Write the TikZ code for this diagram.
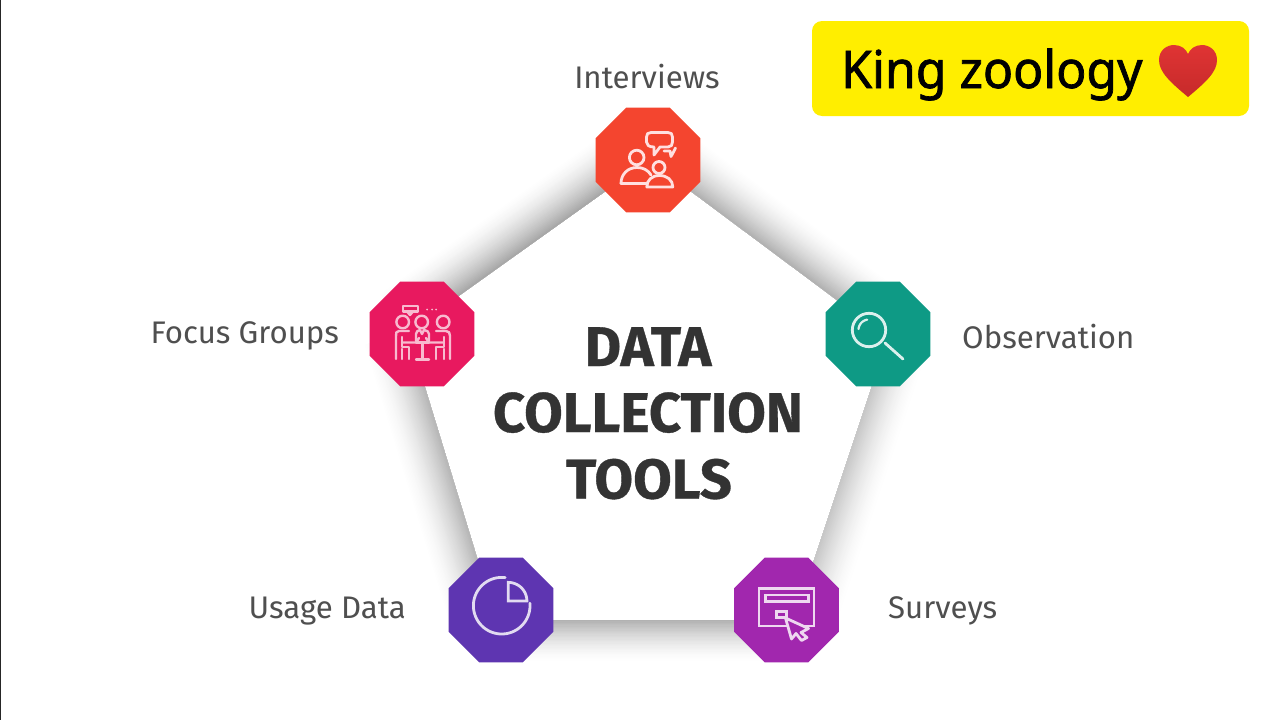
\documentclass[tikz,border=0pt]{standalone}
\usepackage{fontspec}
\setmainfont{Fira Sans}
\newfontfamily\titlefont[BoldFeatures={FakeBold=0.6}]{Fira Sans}
\newfontfamily\badgefont[FakeBold=1.4,FakeStretch=0.96]{Noto Sans}
\usetikzlibrary{calc,shapes.geometric}
\definecolor{cred}{HTML}{F4452F}
\definecolor{cpink}{HTML}{E8195F}
\definecolor{cteal}{HTML}{0E9A85}
\definecolor{cindigo}{HTML}{5E35B1}
\definecolor{cpurple}{HTML}{A127AE}
\definecolor{ctext}{HTML}{4F4F4F}
\definecolor{ctitle}{HTML}{333333}
\definecolor{cbadge}{HTML}{FFEE00}
\definecolor{cheart}{HTML}{E03434}
\definecolor{cheartb}{HTML}{C62A2A}
\tikzset{
  octa/.style={regular polygon,regular polygon sides=8,minimum size=113.6pt,inner sep=0pt,fill=#1},
  lab/.style={font=\fontsize{31.2}{34}\selectfont,text=ctext,inner sep=0pt},
  ttl/.style={font=\titlefont\fontsize{56}{60}\selectfont\bfseries,text=ctitle,inner sep=0pt,anchor=base},
  ico/.style={line width=2.8pt,line join=round,line cap=round,draw=#1},
}
\newcommand\edgeglow[4]{%
  \foreach \i in {32,31,...,1}{%
    \pgfmathsetmacro\dd{#4*\i/32}%
    \pgfmathsetmacro\vv{#3*pow(1-(\i-1)/32,1.6)}%
    \fill[black!\vv!white] (#1) -- (#2) -- ($(#2)!\dd pt!-90:(#1)$) -- ($(#1)!\dd pt!90:(#2)$) -- cycle;
  }%
}
\begin{document}
\begin{tikzpicture}[x=1pt,y=-1pt]
\useasboundingbox (0,0) rectangle (1280,720);
\fill[white] (0,0) rectangle (1280,720);
\fill[black!85] (0,0) rectangle (1.2,720);
% pentagon corners
\coordinate (p1) at (649,160);
\coordinate (p2) at (888,338);
\coordinate (p3) at (794,620);
\coordinate (p4) at (496,620);
\coordinate (p5) at (408,332);
\edgeglow{p1}{p2}{30}{46}
\edgeglow{p2}{p3}{22}{42}
\edgeglow{p3}{p4}{30}{42}
\edgeglow{p4}{p5}{28}{46}
\edgeglow{p5}{p1}{34}{48}
% octagons
\node[octa=cred] (interviews) at (648,160) {};
\node[octa=cteal] (observation) at (878,334) {};
\node[octa=cpurple] (surveys) at (786.5,610) {};
\node[octa=cindigo] (usage) at (501,610) {};
\node[octa=cpink] (focus) at (422,334) {};
% labels
\node[lab,anchor=base] (linterviews) at (647,88) {Interviews};
\node[lab,anchor=base west] (lfocus) at (150.5,343) {Focus Groups};
\node[lab,anchor=base west] (lobs) at (962,348) {Observation};
\node[lab,anchor=base west] (lsurveys) at (888,618) {Surveys};
\node[lab,anchor=base west] (lusage) at (248.5,618) {Usage Data};
% title
\node[ttl] (t1) at (648,366) {DATA};
\node[ttl] (t2) at (648,432) {COLLECTION};
\node[ttl] (t3) at (649,498.5) {TOOLS};
% badge
\fill[cbadge,rounded corners=10pt] (812,21) rectangle (1249,116);
\node[inner sep=0pt,anchor=base west,font=\badgefont\fontsize{52}{54}\selectfont,text=black] (badge) at (841,88) {King zoology};
\shade[top color=cheart,bottom color=cheartb] (1188,97) .. controls (1170,82) and (1159,72) .. (1159,60)
  .. controls (1159,50) and (1167,45) .. (1174,45)
  .. controls (1181,45) and (1186,49) .. (1188,54)
  .. controls (1190,49) and (1195,45) .. (1202,45)
  .. controls (1209,45) and (1217,50) .. (1217,60)
  .. controls (1217,72) and (1206,82) .. (1188,97) -- cycle;
% interviews icon
\begin{scope}[ico=red!12!white]
\draw (651,132.5) -- (668,132.5) .. controls (671,132.5) and (672.5,134) .. (672.5,137) -- (672.5,142) .. controls (672.5,145) and (671,147) .. (668,147) -- (660,147) -- (654,155) -- (654,147) .. controls (649,147) and (646.5,145) .. (646.5,142) -- (646.5,137) .. controls (646.5,134) and (648,132.5) .. (651,132.5) -- cycle;
\draw (664,151) -- (670,151) -- (671,156.5) -- (674,151) -- (675.5,148);
\draw (636.7,157.5) circle (7.3);
\draw (621,183.5) .. controls (621,174) and (628,167.5) .. (637,167.5) .. controls (643,167.5) and (648,170) .. (651,175);
\draw (621,183.5) -- (647,183.5);
\draw (659,167.5) circle (6);
\draw (646.8,187) .. controls (646.8,180) and (652,175.5) .. (659.5,175.5) .. controls (667,175.5) and (672.8,180) .. (672.8,187) -- cycle;
\end{scope}
% focus groups icon
\begin{scope}[ico=white!70!cpink,line width=2.4pt]
\draw (403,306) rectangle (418,311.5);
\draw (407,311.5) -- (410,315) -- (413,311.5);
\foreach \xx in {427,432,436} \fill[white!70!cpink] (\xx,309.5) circle (1);
\draw (402.7,322) circle (6.3);
\draw (421.7,322) circle (6.3);
\draw (443.2,322) circle (6.3);
% left person
\draw (409,331) -- (399,331) .. controls (396,331) and (396,333) .. (396,336) -- (396,349) -- (396,359);
\draw (402,337) -- (402,347) -- (409,347) -- (409,359);
\draw (402,359) -- (402,349);
% right person
\draw (436,331) -- (446,331) .. controls (449,331) and (450,333) .. (450,336) -- (450,359);
\draw (444,337) -- (444,347) -- (436,347) -- (436,359);
\draw (444,359) -- (444,349);
% middle
\draw (416,341) -- (416,334) .. controls (416,331) and (418,331) .. (420,330) -- (422,334) -- (424,330) .. controls (427,331) and (429,331) .. (429,334) -- (429,341);
\draw (402,342.5) -- (416,342.5) -- (419,338);
\draw (443,342.5) -- (429,342.5) -- (426,338);
\draw (416,342.5) -- (429,342.5);
\draw (422.5,342.5) -- (422.5,359);
\draw (416,359.5) -- (429,359.5);
\end{scope}
% magnifier icon
\begin{scope}[ico=white!85!cteal]
\draw (869,330) circle (16.7);
\draw (885,343) -- (903,359);
\draw[line width=2.2pt] plot[domain=100:175,samples=20,variable=\a] ({869+10.5*cos(\a)},{330-10.5*sin(\a)});
\end{scope}
% pie icon
\begin{scope}[ico=white!82!cindigo]
\draw plot[domain=83:365,samples=90,variable=\a] ({501.7+28.3*cos(\a)},{605.7-28.3*sin(\a)});
\draw[line join=miter] (508.3,601) -- plot[domain=90:0,samples=24,variable=\a] ({508.3+18.6*cos(\a)},{601-18.6*sin(\a)}) -- cycle;
\end{scope}
% survey icon
\begin{scope}[ico=white!82!cpurple]
\draw[line join=miter] (759,588.3) rectangle (814,626);
\draw[line join=miter] (765.7,595) rectangle (808.3,601.7);
\draw[line join=miter] (776.7,611.7) rectangle (786.7,617.7);
\draw[fill=cpurple] (785.5,618) -- (808.5,628.5) -- (801,632.5) -- (807,637.5) -- (801.5,640.5) -- (796,633.5) -- (791.5,639) -- cycle;
\end{scope}
\end{tikzpicture}
\end{document}
